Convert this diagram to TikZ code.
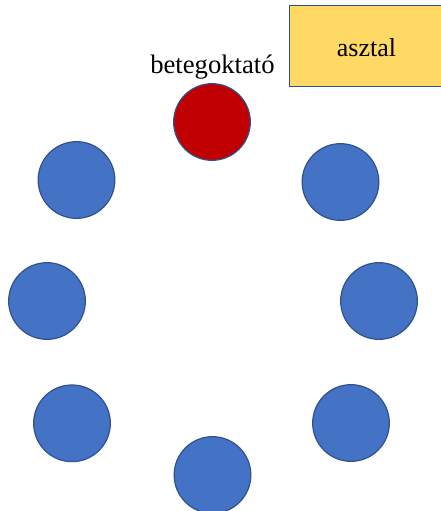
\documentclass[tikz,border=0pt]{standalone}
\usepackage{fontspec}
\setmainfont{Liberation Serif}
\definecolor{seatblue}{HTML}{4472C4}
\definecolor{edgeblue}{HTML}{2F528F}
\definecolor{leadred}{HTML}{C00000}
\definecolor{tableyellow}{HTML}{FFD966}
\begin{document}
\begin{tikzpicture}[x=0.75pt,y=-0.75pt,
  seat/.style={circle,draw=edgeblue,line width=0.9pt,fill=seatblue,minimum size=57.5pt,inner sep=0pt},
  leader/.style={seat,fill=leadred},
  tablebox/.style={rectangle,draw=edgeblue,line width=0.9pt,fill=tableyellow,minimum width=115.5pt,minimum height=61pt,inner sep=0pt,text height=16.3pt,text depth=0pt,font=\fontsize{19.5pt}{22pt}\selectfont},
  lbl/.style={font=\fontsize{20pt}{23pt}\selectfont,inner sep=0pt}]
\useasboundingbox (0,0) rectangle (441,511);
\node[tablebox] (asztal) at (366.5,46) {asztal};
\node[lbl,anchor=base] (lab) at (212.5,73.5) {betegoktató};
\node[leader] (r) at (212,122) {};
\node[seat] (b1) at (76.5,180) {};
\node[seat] (b2) at (340.5,182) {};
\node[seat] (b3) at (47,301) {};
\node[seat] (b4) at (379,301) {};
\node[seat] (b5) at (72,423.3) {};
\node[seat] (b6) at (351,423) {};
\node[seat] (b7) at (212.5,475) {};
\end{tikzpicture}
\end{document}
